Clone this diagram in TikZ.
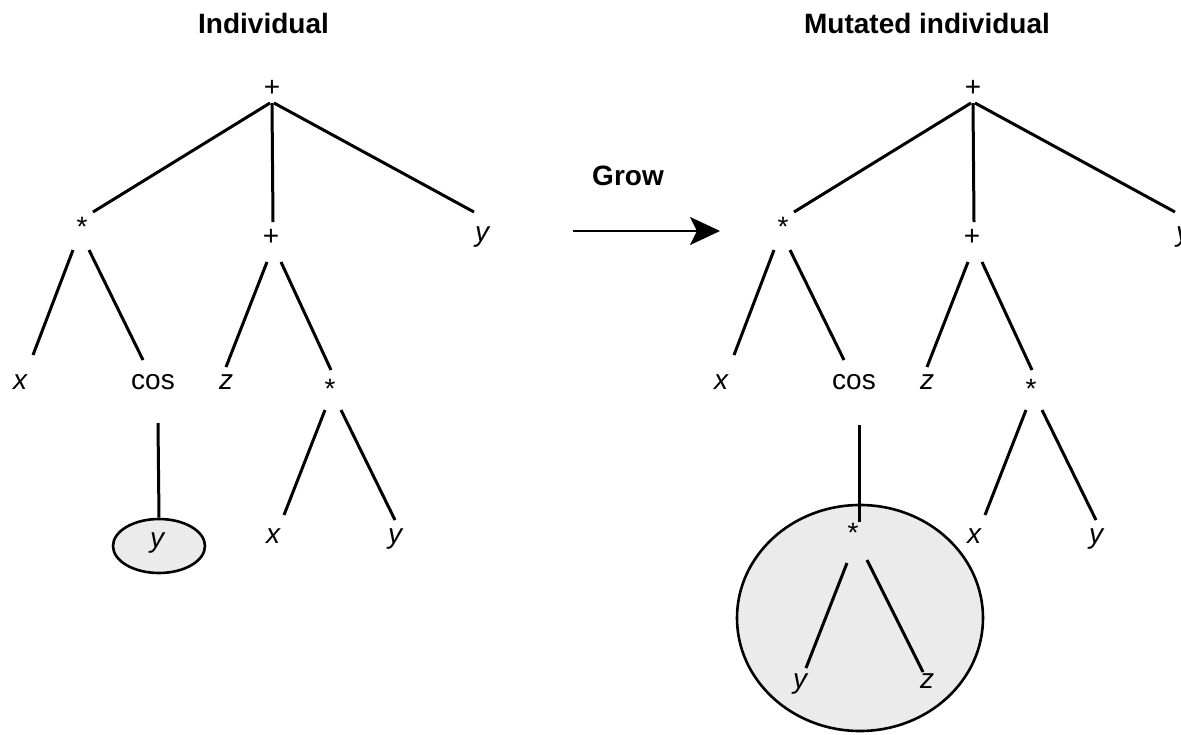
\documentclass[tikz,border=0pt]{standalone}
\usepackage{fontspec}
\setmainfont{Liberation Sans}
\usetikzlibrary{calc,arrows.meta,shapes.geometric}
\definecolor{shade}{HTML}{EBEBEB}

\tikzset{
  lbl/.style={anchor=base, inner sep=0pt, font=\fontsize{28}{34}\selectfont},
  var/.style={anchor=base, inner sep=0pt, font=\fontsize{28}{34}\selectfont\itshape},
  ttl/.style={anchor=base, inner sep=0pt, font=\fontsize{28}{34}\selectfont\bfseries},
  edge/.style={line width=3pt},
  blob/.style={ellipse, draw, line width=2.6pt, fill=shade, inner sep=0pt},
}

% shared part of both expression trees: + ( * (x, cos ..), + (z, * (x, y)), y )
\newcommand\exprtree{%
  \node[lbl] (r)  at (272,96)  {+};
  \node[lbl] (m)  at (82,236)  {*};
  \node[lbl] (p)  at (271,245) {+};
  \node[var] (ty) at (482,241) {y};
  \node[var] (mx) at (20,389)  {x};
  \node[lbl] (cs) at (153,389) {cos};
  \node[var] (pz) at (226,389) {z};
  \node[lbl] (pm) at (330,398) {*};
  \node[var] (px) at (273,543) {x};
  \node[var] (py) at (395,543) {y};
  \draw[edge] ($(r.base)+(-2,7)$)  -- ($(m.base)+(11,-24)$);
  \draw[edge] ($(r.base)+(0,7)$)   -- ($(p.base)+(2,-23)$);
  \draw[edge] ($(r.base)+(2,7)$)   -- ($(ty.base)+(-8,-29)$);
  \draw[edge] ($(m.base)+(-9,14)$) -- ($(mx.base)+(13,-34)$);
  \draw[edge] ($(m.base)+(7,14)$)  -- ($(cs.base)+(-10,-29)$);
  \draw[edge] ($(p.base)+(-4,17)$) -- ($(pz.base)+(0,-22)$);
  \draw[edge] ($(p.base)+(10,17)$) -- ($(pm.base)+(1,-28)$);
  \draw[edge] ($(pm.base)+(-5,12)$) -- ($(px.base)+(11,-28)$);
  \draw[edge] ($(pm.base)+(11,12)$) -- ($(py.base)+(0,-23)$);
}

\begin{document}
\begin{tikzpicture}[x=1pt, y=-1pt]
  \useasboundingbox (0,0) rectangle (1181,734);
  \clip (0,0) rectangle (1181,734);

  % titles
  \node[ttl] (t1) at (263.5,33) {Individual};
  \node[ttl] (t2) at (927,33) {Mutated individual};

  % original individual
  \begin{scope}[name prefix=L-]
    \exprtree
    \node[blob, minimum width=92pt, minimum height=54pt] (leaf) at (159,546) {};
    \node[var] (leafy) at (157,547) {y};
    \draw[edge] ($(cs.base)+(5,34)$) -- (leaf.north);
  \end{scope}

  % grow operation
  \node[ttl] (grow) at (628,185) {Grow};
  \coordinate (a1) at (573,231);
  \coordinate (a2) at (720,231);
  \draw[line width=2.4pt, -{Stealth[length=30pt,width=28pt,inset=7pt]}] (a1) -- (a2);

  % mutated individual
  \begin{scope}[xshift=701pt, name prefix=R-]
    \exprtree
    \node[blob, minimum width=246pt, minimum height=226pt] (sub) at (159,618) {};
    \node[lbl] (sm) at (152,542) {*};
    \node[var] (sy) at (99,688)  {y};
    \node[var] (sz) at (226,688) {z};
    \draw[edge] ($(cs.base)+(5,36)$) -- ($(sm.base)+(6,-20)$);
    \draw[edge] ($(sm.base)+(-6,21)$) -- ($(sy.base)+(6,-20)$);
    \draw[edge] ($(sm.base)+(14,18)$) -- ($(sz.base)+(-4,-16)$);
  \end{scope}
\end{tikzpicture}
\end{document}
